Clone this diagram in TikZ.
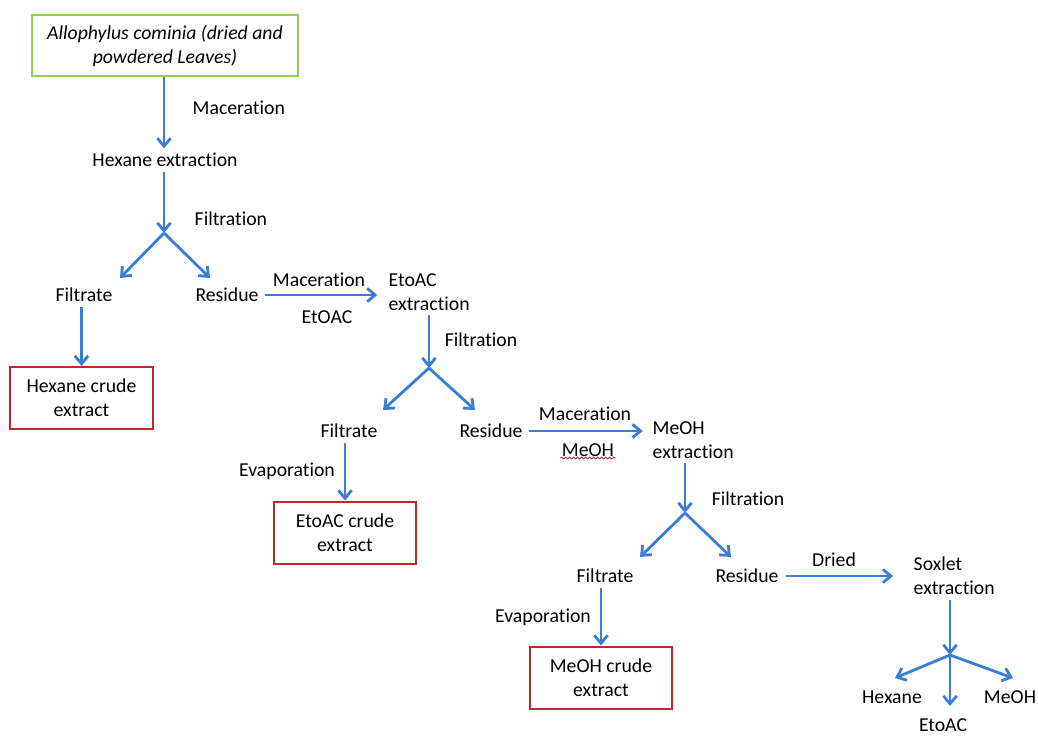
\documentclass[tikz,border=0pt]{standalone}
\usepackage{fontspec}
\setmainfont{Carlito}[Ligatures=NoCommon]
\usetikzlibrary{positioning,arrows.meta,decorations.pathmorphing}
\definecolor{flowblue}{RGB}{58,125,215}
\definecolor{boxred}{RGB}{192,40,44}
\definecolor{boxgreen}{RGB}{146,208,80}

\begin{document}
\begin{tikzpicture}[
    x=0.75pt,y=-0.75pt,
    every node/.style={font=\fontsize{14.8}{18}\selectfont},
    stage/.style={align=left,anchor=west},
    source/.style={draw=boxgreen,line width=1.5pt,align=center,minimum width=199.5pt,minimum height=46pt,font=\fontsize{14.8}{18}\selectfont\itshape},
    result/.style={draw=boxred,line width=1.5pt,align=center,minimum width=107pt,minimum height=46.5pt},
    flow/.style={draw=flowblue,line width=2.1pt,-{Straight Barb[length=6pt,width=10pt]}},
  ]
\useasboundingbox (0,0) rectangle (1038,736);

% split points
\coordinate (sp1) at (164,233);
\coordinate (sp2) at (429,368);
\coordinate (sp3) at (685,513);
\coordinate (sp4) at (950,655);

% hexane
\node (leaves) [source] at (165,45.5) {Allophylus cominia (dried and\\powdered Leaves)};
\node (hex ext) at (165,160) {Hexane extraction};
\node (mac 1) [anchor=west] at (188,108) {Maceration};
\node (filtr 1) [anchor=west] at (190,219) {Filtration};
\node (filt 1) at (84,295) {Filtrate};
\node (res 1) at (227,295) {Residue};
\node (hex crude) [result] at (81.5,398) {Hexane crude\\extract};
\coordinate (filt 1 tip) at (120,278);
\coordinate (res 1 tip) at (210,278);

\draw[flow] (leaves.south -| sp1) -- (hex ext.north -| sp1);
\draw[flow] (hex ext.south -| sp1) -- (sp1);
\draw[flow] (sp1) -- (filt 1 tip);
\draw[flow] (sp1) -- (res 1 tip);
\draw[flow] (filt 1.south -| hex crude) -- (hex crude.north);

% ethyl acetate
\node (eto ext) [stage] at (384,292) {EtoAC\\extraction};
\node (mac 2) at (319,280) {Maceration};
\node (eto lbl) at (327,317) {EtOAC};
\node (filtr 2) at (481,340) {Filtration};
\node (filt 2) at (349,431) {Filtrate};
\node (res 2) at (491,431) {Residue};
\node (evap 2) at (287,471) {Evaporation};
\node (eto crude) [result] at (345,532.5) {EtoAC crude\\extract};
\coordinate (filt 2 tip) at (383,410);
\coordinate (res 2 tip) at (475,410);

\draw[flow,shorten <=1pt,shorten >=5pt] (res 1.east) -- (res 1.east -| eto ext.west);
\draw[flow] (eto ext.south -| sp2) -- (sp2);
\draw[flow] (sp2) -- (filt 2 tip);
\draw[flow] (sp2) -- (res 2 tip);
\draw[flow] (filt 2.south -| eto crude) -- (eto crude.north);

% methanol
\node (meoh ext) [stage] at (648,440) {MeOH\\extraction};
\node (mac 3) at (585,414) {Maceration};
\node (meoh lbl) [inner sep=1pt] at (588,450) {MeOH};
\node (filtr 3) at (748,499) {Filtration};
\node (filt 3) at (605,576) {Filtrate};
\node (res 3) at (747,576) {Residue};
\node (evap 3) at (543,617) {Evaporation};
\node (meoh crude) [result] at (601,677.5) {MeOH crude\\extract};
\coordinate (filt 3 tip) at (640,557);
\coordinate (res 3 tip) at (731,557);

\draw[flow,shorten <=1pt,shorten >=4pt] (res 2.east) -- (res 2.east -| meoh ext.west);
\draw[boxred,line width=0.6pt,decorate,decoration={snake,amplitude=0.7pt,segment length=3pt}] (meoh lbl.south west) -- (meoh lbl.south east);
\draw[flow] (meoh ext.south -| sp3) -- (sp3);
\draw[flow] (sp3) -- (filt 3 tip);
\draw[flow] (sp3) -- (res 3 tip);
\draw[flow] (filt 3.south -| meoh crude) -- (meoh crude.north);

% soxhlet
\node (sox ext) [stage] at (909,576) {Soxlet\\extraction};
\node (dried) at (834,560) {Dried};
\node (sox hex) at (892,697) {Hexane};
\node (sox eto) at (943,725) {EtoAC};
\node (sox meoh) at (1010,697) {MeOH};
\coordinate (sox hex tip) at (895,678);
\coordinate (sox eto tip) at (950,706);
\coordinate (sox meoh tip) at (1013,678);

\draw[flow,shorten <=2pt,shorten >=12pt] (res 3.east) -- (res 3.east -| sox ext.west);
\draw[flow] (sox ext.south -| sp4) -- (sp4);
\draw[flow] (sp4) -- (sox hex tip);
\draw[flow] (sp4) -- (sox eto tip);
\draw[flow] (sp4) -- (sox meoh tip);
\end{tikzpicture}
\end{document}
